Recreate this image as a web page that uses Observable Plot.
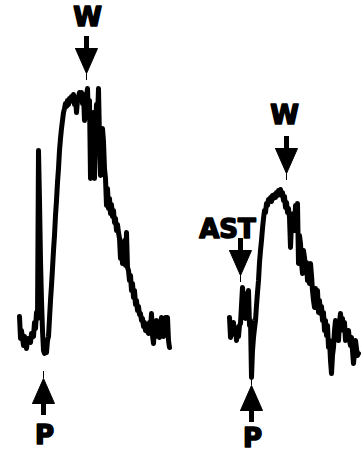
<!DOCTYPE html>
<html>
<head>
<meta charset="utf-8">
<script src="https://cdn.jsdelivr.net/npm/d3@7"></script>
<script src="https://cdn.jsdelivr.net/npm/@observablehq/plot@0.6"></script>
<style>
  html, body { margin: 0; padding: 0; background: #fff; }
  #chart svg { display: block; }
</style>
</head>
<body>
<div id="chart"></div>
<script>
// Trace 1 (left): time (arbitrary units) and signal (screen-down units)
const leftT = [19,20,21,23,24,26,27,28,30,31,33,34,35,36,37,38,39,40,41,42,43,44,45,46,47,48,49,50,51,52,53,54,55,56,57,58,59,60,61,62,63,64,65,66,67,68,69,70,71,72,73,74,75,76,77,78,79,80,81,82,83,84,85,86,87,88,89,90,91,92,93,94,95,96,97,98,99,100,101,102,103,104,105,106,107,108,109,110,111,112,113,114,115,116,117,118,119,120,121,122,123,124,125,126,127,128,129,130,131,132,133,134,135,136,137,138,139,140,141,142,143,144,145,146,147,148,149,150,151,152,153,154,155,156,157,158,159,160,161,162,163,164,165,166,167,168,169,170];
const leftV = [316,338,330,345,336,348,340,338,342,333,336,322,328,312,318,150,200,260,300,330,350,353,348,352,340,336,318,300,285,268,250,235,215,200,182,168,150,138,128,120,112,108,103,106,100,104,98,101,96,100,94,104,97,112,100,96,92,98,92,103,94,120,104,96,88,118,100,178,118,128,112,178,128,104,118,88,138,175,150,128,141,168,178,205,188,208,198,213,204,216,210,222,218,230,224,232,238,258,245,263,252,240,265,232,267,270,280,275,290,283,297,290,304,300,310,306,314,313,320,318,326,322,330,324,331,333,322,329,313,335,343,326,336,320,334,328,337,326,317,330,336,322,317,329,317,340,347];

// Trace 2 (right)
const rightT = [229,230,231,232,233,234,235,236,237,238,239,240,241,242,243,244,245,246,247,248,249,250,251,252,253,254,255,256,257,258,259,260,261,262,263,264,265,266,267,268,269,270,271,272,273,274,275,276,277,278,279,280,281,282,283,284,285,286,287,288,289,290,291,292,293,294,295,296,297,298,299,300,301,302,303,304,305,306,307,308,309,310,311,312,313,314,315,316,317,318,319,320,321,322,323,324,325,326,327,328,329,330,331,332,333,334,335,336,337,338,339,340,341,342,343,344,345,346,347,348,349,350,351,352,353,354,355,356,357,358,359,360,361,362];
const rightV = [317,337,325,332,322,334,327,340,330,336,325,323,305,287,300,293,318,296,307,290,325,320,377,350,337,328,320,305,292,280,262,250,240,228,218,210,212,203,205,199,200,197,201,195,198,194,197,192,195,190,193,189,195,192,200,196,207,202,212,208,217,247,222,216,213,230,205,225,203,263,235,243,262,273,250,257,268,262,280,270,283,263,275,290,300,307,288,298,290,312,300,313,306,320,312,330,320,335,325,347,340,360,373,355,347,330,320,338,328,340,322,313,325,318,330,322,340,332,337,330,340,345,337,350,363,352,340,348,355,353];

// Annotation arrows: position, head tip, direction
const arrowX   = [86, 286, 240, 43, 251];
const arrowTip = [73, 173, 275, 378, 385];
const arrowDir = ["down", "down", "down", "up", "up"];

// Labels
const labelText = ["W", "W", "AST", "P", "P"];
const labelX    = [87, 284, 227, 44, 252];
const labelY    = [25, 123, 237, 443, 446];

const left = leftT.map((t, i) => ({t, v: leftV[i]}));
const right = rightT.map((t, i) => ({t, v: rightV[i]}));

const HEAD = 25, HALF = 11, SHAFT = 12, THIN = 7;
const arrows = arrowX.map((x, i) => {
  const s = arrowDir[i] === "down" ? -1 : 1;
  const tip = arrowTip[i];
  return {
    id: i, x, tip,
    base: tip + s * HEAD,
    tail: tip + s * (HEAD + SHAFT),
    thinEnd: tip - s * THIN
  };
});
const tris = arrows.flatMap(a => [
  {id: a.id, x: a.x - HALF, y: a.base},
  {id: a.id, x: a.x + HALF, y: a.base},
  {id: a.id, x: a.x, y: a.tip},
  {id: a.id, x: a.x - HALF, y: a.base}
]);
const labels = labelText.map((text, i) => ({text, x: labelX[i], y: labelY[i]}));

const traceStyle = {x: "t", y: "v", stroke: "#000", strokeWidth: 5, strokeLinejoin: "round", strokeLinecap: "round"};

const chart = Plot.plot({
  width: 363,
  height: 452,
  margin: 0,
  x: {domain: [0, 363], axis: null},
  y: {domain: [0, 452], reverse: true, axis: null},
  style: {background: "#fff"},
  marks: [
    Plot.line(left, traceStyle),
    Plot.line(right, traceStyle),
    Plot.ruleX(arrows, {x: "x", y1: "base", y2: "tail", stroke: "#000", strokeWidth: 5}),
    Plot.ruleX(arrows, {x: "x", y1: "tip", y2: "thinEnd", stroke: "#000", strokeWidth: 1}),
    Plot.line(tris, {x: "x", y: "y", z: "id", fill: "#000", stroke: "#000", strokeWidth: 1}),
    Plot.text(labels, {
      x: "x", y: "y", text: "text",
      textAnchor: "middle", lineAnchor: "bottom",
      fontFamily: "DejaVu Sans", fontWeight: "bold", fontSize: 26,
      fill: "#000", stroke: "#000", strokeWidth: 1.6
    })
  ]
});
document.getElementById("chart").appendChild(chart);
</script>
</body>
</html>
